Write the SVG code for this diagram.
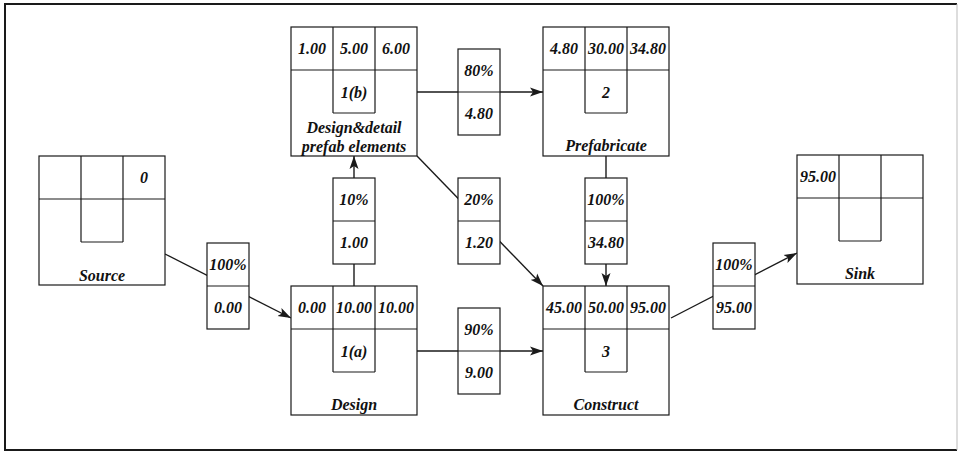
<svg xmlns="http://www.w3.org/2000/svg" xmlns:xlink="http://www.w3.org/1999/xlink" width="961" height="452" viewBox="0 0 961 452">
<style>
.frame{fill:none;stroke:#1a1a1a;stroke-width:2}
.box{fill:#fff;stroke:#1a1a1a;stroke-width:1.2}
.ln{fill:none;stroke:#1a1a1a;stroke-width:1.2}
.conn{fill:none;stroke:#1a1a1a;stroke-width:1.4}
text{font-family:"Liberation Serif","Times New Roman",serif;font-weight:bold;font-style:italic;font-size:16px;fill:#111;text-anchor:middle}
</style>
<defs>
<marker id="arr" markerUnits="userSpaceOnUse" markerWidth="14" markerHeight="10" refX="13" refY="5" orient="auto">
<path d="M0,0.5 L13,5 L0,9.5 L3,5 Z" fill="#1a1a1a"/>
</marker>
<g id="nodeShape">
<rect class="box" x="0" y="0" width="126" height="129"/>
<path class="ln" d="M0,43 H126 M42,0 V86 M84,0 V86 M42,86 H84"/>
</g>
<g id="edgeShape">
<rect class="box" x="0" y="0" width="42" height="86"/>
<path class="ln" d="M0,43 H42"/>
</g>
</defs>
<rect width="961" height="452" fill="#fff"/>
<path class="frame" d="M957,4 H5 V450 H957"/>
<path d="M957,4 V450" fill="none" stroke="#bbb" stroke-width="1"/>

<g id="connectors">
<path class="conn" d="M165,254 L291,318" marker-end="url(#arr)"/>
<path class="conn" d="M354,286 L354,156" marker-end="url(#arr)"/>
<path class="conn" d="M417,92 L543,92" marker-end="url(#arr)"/>
<path class="conn" d="M417,156 L543,286" marker-end="url(#arr)"/>
<path class="conn" d="M606,156 L606,286" marker-end="url(#arr)"/>
<path class="conn" d="M417,351 L543,351" marker-end="url(#arr)"/>
<path class="conn" d="M671,318 L797,253" marker-end="url(#arr)"/>
</g>

<g id="edge-labels">
<g id="e-source-design"><use xlink:href="#edgeShape" x="207" y="243"/><text x="228" y="270">100%</text><text x="228" y="313">0.00</text></g>
<g id="e-design-ddp"><use xlink:href="#edgeShape" x="333" y="178"/><text x="354" y="205">10%</text><text x="354" y="248">1.00</text></g>
<g id="e-ddp-prefab"><use xlink:href="#edgeShape" x="458" y="49"/><text x="479" y="76">80%</text><text x="479" y="119">4.80</text></g>
<g id="e-ddp-construct"><use xlink:href="#edgeShape" x="458" y="178"/><text x="479" y="205">20%</text><text x="479" y="248">1.20</text></g>
<g id="e-prefab-construct"><use xlink:href="#edgeShape" x="585" y="178"/><text x="606" y="205">100%</text><text x="606" y="248">34.80</text></g>
<g id="e-design-construct"><use xlink:href="#edgeShape" x="458" y="308"/><text x="479" y="335">90%</text><text x="479" y="378">9.00</text></g>
<g id="e-construct-sink"><use xlink:href="#edgeShape" x="713" y="243"/><text x="734" y="270">100%</text><text x="734" y="313">95.00</text></g>
</g>

<g id="source"><use xlink:href="#nodeShape" x="39" y="156"/><text x="144" y="183">0</text><text x="102" y="281">Source</text></g>
<g id="ddp"><use xlink:href="#nodeShape" x="291" y="27"/><text x="312" y="54">1.00</text><text x="354" y="54">5.00</text><text x="396" y="54">6.00</text><text x="354" y="98">1(b)</text><text x="354" y="133">Design&amp;detail</text><text x="354" y="152">prefab elements</text></g>
<g id="design"><use xlink:href="#nodeShape" x="291" y="286"/><text x="312" y="313">0.00</text><text x="354" y="313">10.00</text><text x="396" y="313">10.00</text><text x="354" y="357">1(a)</text><text x="354" y="410">Design</text></g>
<g id="prefab"><use xlink:href="#nodeShape" x="543" y="27"/><text x="564" y="54">4.80</text><text x="606" y="54">30.00</text><text x="648" y="54">34.80</text><text x="606" y="98">2</text><text x="606" y="151">Prefabricate</text></g>
<g id="construct"><use xlink:href="#nodeShape" x="543" y="286"/><text x="564" y="313">45.00</text><text x="606" y="313">50.00</text><text x="648" y="313">95.00</text><text x="606" y="357">3</text><text x="606" y="410">Construct</text></g>
<g id="sink"><use xlink:href="#nodeShape" x="797" y="155"/><text x="818" y="182">95.00</text><text x="860" y="279">Sink</text></g>
</svg>
